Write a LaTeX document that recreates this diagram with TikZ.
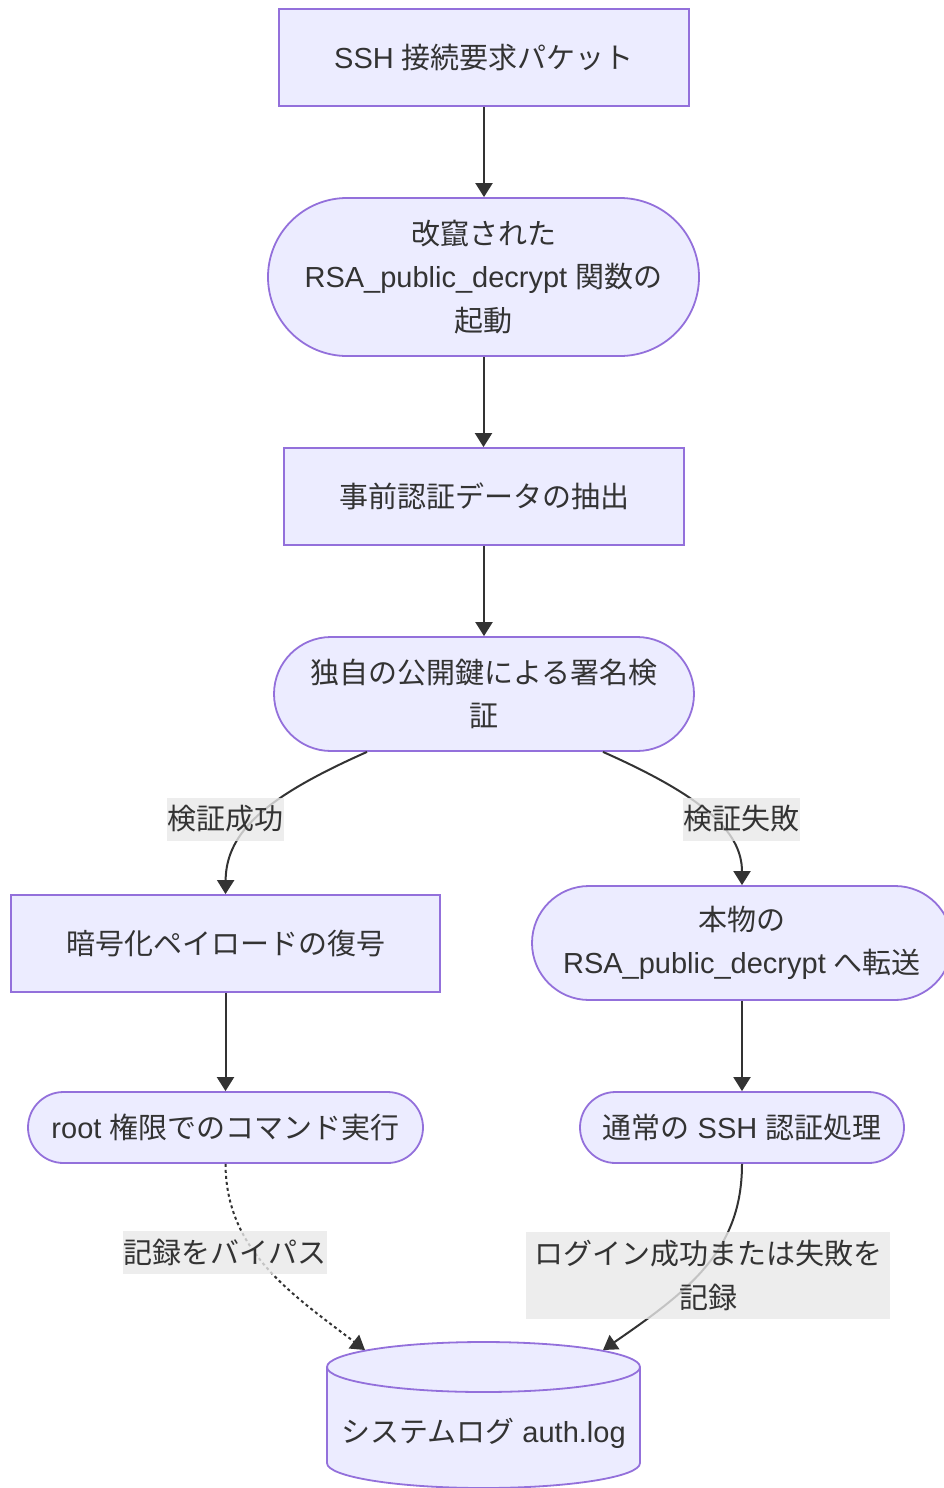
\documentclass[tikz,border=0pt]{standalone}
\usepackage{fontspec}
\setmainfont{Liberation Sans}
\newfontfamily\cjk{Noto Sans CJK JP}
\usetikzlibrary{arrows.meta}
\definecolor{nodefill}{HTML}{ECECFF}
\definecolor{nodeline}{HTML}{9370DB}
\definecolor{textc}{HTML}{333333}
\definecolor{edgec}{HTML}{333333}
\definecolor{lblfill}{HTML}{E8E8E8}
\begin{document}
\begin{tikzpicture}[x=1pt,y=1pt,
  every node/.style={font=\fontsize{29}{43.5}\selectfont, text=textc},
  base/.style={draw=nodeline, fill=nodefill, line width=1.8pt, align=center, inner sep=0pt},
  rectnode/.style={base, rectangle},
  stadium/.style={base, rectangle, rounded corners=#1},
  edge/.style={draw=edgec, line width=2pt, -{Triangle[length=14pt,width=17pt]}},
  lbl/.style={fill=lblfill, fill opacity=0.8, text opacity=1, inner xsep=0.5pt, inner ysep=0pt, minimum height=43pt, align=center}
]
\useasboundingbox (0,0) rectangle (944,-1488);

% nodes
\node[rectnode, minimum width=410pt, minimum height=97pt] (A) at (484,-57.5) {SSH {\cjk 接続要求パケット}};
\node[stadium=79pt, minimum width=431pt, minimum height=158pt] (B) at (483.5,-277) {{\cjk 改竄された}\\RSA\_public\_decrypt {\cjk 関数の}\\{\cjk 起動}};
\node[rectnode, minimum width=400pt, minimum height=97pt] (C) at (484,-496.5) {\cjk 事前認証データの抽出};
\node[stadium=57pt, minimum width=420pt, minimum height=114pt] (D) at (484,-694) {{\cjk 独自の公開鍵による署名検}\\{\cjk 証}};
\node[rectnode, minimum width=429pt, minimum height=97pt] (E) at (225.5,-943.5) {\cjk 暗号化ペイロードの復号};
\node[stadium=57pt, minimum width=420pt, minimum height=114pt] (F) at (742,-943) {{\cjk 本物の}\\RSA\_public\_decrypt {\cjk へ転送}};
\node[stadium=35.5pt, minimum width=395pt, minimum height=71pt] (G) at (225.5,-1127.5) {root {\cjk 権限でのコマンド実行}};
\node[stadium=35.5pt, minimum width=324pt, minimum height=71pt] (H) at (742,-1127.5) {{\cjk 通常の} SSH {\cjk 認証処理}};

% cylinder
\fill[nodefill] (327,-1367) -- (327,-1463) arc[start angle=180,end angle=360,x radius=156.5,y radius=25] -- (640,-1367) arc[start angle=0,end angle=180,x radius=156.5,y radius=25] -- cycle;
\draw[nodeline, line width=1.8pt] (327,-1367) -- (327,-1463) arc[start angle=180,end angle=360,x radius=156.5,y radius=25] -- (640,-1367);
\draw[nodeline, line width=1.8pt] (483.5,-1367) ellipse[x radius=156.5,y radius=25];
\node (I) at (483.5,-1433) {{\cjk システムログ} auth.log};
\coordinate (Il) at (365,-1350);
\coordinate (Ir) at (603,-1350);

% edges
\draw[edge] (A.south) -- (A.south |- B.north);
\draw[edge] (B.south) -- (B.south |- C.north);
\draw[edge] (C.south) -- (C.south |- D.north);
\draw[edge] ([xshift=-117pt]D.south) .. controls (270,-795) and (226,-830) .. (E.north);
\draw[edge] ([xshift=119pt]D.south) .. controls (700,-795) and (742,-830) .. (F.north);
\draw[edge] (E.south) -- (E.south |- G.north);
\draw[edge] (F.south) -- (F.south |- H.north);
\draw[edge, dash pattern=on 3pt off 3pt] (G.south) .. controls (226,-1250) and (290,-1293) .. (Il);
\draw[edge] (H.south) .. controls (742,-1250) and (690,-1290) .. (Ir);

% edge labels
\node[lbl] (L1) at (225.5,-819) {\cjk 検証成功};
\node[lbl] (L2) at (741.5,-819) {\cjk 検証失敗};
\node[lbl] (L3) at (225,-1252.5) {\cjk 記録をバイパス};
\node[lbl, minimum width=364pt, minimum height=87pt] (L4) at (708,-1275.5) {{\cjk ログイン成功または失敗を}\\{\cjk 記録}};
\end{tikzpicture}
\end{document}
